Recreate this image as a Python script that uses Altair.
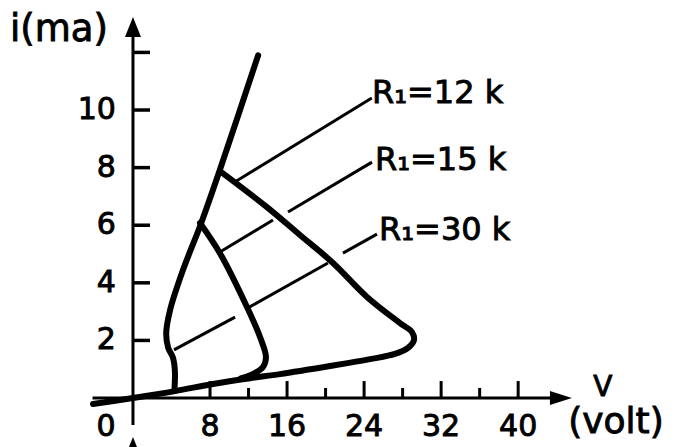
import altair as alt
import pandas as pd

# Visible window of the v-i plane (volts, mA)
X_DOMAIN = [-13.81, 56.91]
Y_DOMAIN = [-1.70, 13.82]

# Main discharge characteristic, from the top down to the knee at the axis
main_v = [13.0, 9.0, 7.0, 5.2, 3.85, 3.45, 3.65, 4.15, 4.35, 4.3]
main_i = [11.9, 7.9, 6.0, 4.45, 3.05, 2.25, 1.75, 1.4, 0.95, 0.25]

# Low-current branch continuing into the R1 = 12 k loop
loop12_v = [-4.15, 0.0, 4.36, 8.31, 12.15, 15.26, 20.46, 24.61, 27.2, 28.56,
            29.18, 28.97, 27.73, 24.3, 20.77, 17.34, 13.91, 9.03]
loop12_i = [-0.21, 0.0, 0.24, 0.49, 0.69, 0.83, 1.11, 1.35, 1.53, 1.74,
            2.01, 2.29, 2.60, 3.51, 4.69, 5.66, 6.63, 7.88]

# R1 = 15 k loop
loop15_v = [6.96, 9.03, 11.84, 13.19, 13.81, 13.5, 12.6, 11.2]
loop15_i = [6.08, 5.03, 3.16, 2.12, 1.42, 1.08, 0.86, 0.68]

# Thin leader lines to the R1 labels (start v, start i, end v, end i)
lead_v1 = [10.7, 9.03, 16.1, 4.26, 11.94, 21.8]
lead_i1 = [7.53, 5.07, 6.46, 1.67, 3.13, 5.03]
lead_v2 = [24.8, 14.54, 24.82, 10.6, 20.25, 25.34]
lead_i2 = [10.42, 6.18, 8.19, 2.81, 4.69, 5.69]

r_labels = ["R\u2081=12 k", "R\u2081=15 k", "R\u2081=30 k"]
r_label_v = [24.82, 25.13, 25.55]
r_label_i = [10.24, 7.92, 5.49]

y_ticks = [2, 4, 6, 8, 10, 12]
y_tick_labels = ["2", "4", "6", "8", "10", ""]
x_ticks = [8, 12, 16, 20, 24, 28, 32, 36, 40]
x_tick_labels = ["0", "8", "16", "24", "32", "40"]
x_tick_label_v = [-2.8, 8, 16, 24, 32, 40]

INK = "black"
FONT = "DejaVu Sans"
TEXT_STROKE = 0.9
xs = alt.Scale(domain=X_DOMAIN, nice=False, zero=False)
ys = alt.Scale(domain=Y_DOMAIN, nice=False, zero=False)
X = alt.X("v:Q", scale=xs, axis=None)
Y = alt.Y("i:Q", scale=ys, axis=None)


def curve_frame():
    rows = []
    for name, vv, ii in [("main", main_v, main_i),
                         ("loop12", loop12_v, loop12_i),
                         ("loop15", loop15_v, loop15_i)]:
        for k, (v, i) in enumerate(zip(vv, ii)):
            rows.append({"curve": name, "k": k, "v": v, "i": i})
    return pd.DataFrame(rows)


# axis lines and ticks as segments
axis_rows = [
    {"v": 0.0, "i": -0.94, "v2": 0.0, "i2": 12.7, "w": 3.0},
    {"v": -4.2, "i": 0.0, "v2": 43.6, "i2": 0.0, "w": 3.0},
]
for t in y_ticks:
    axis_rows.append({"v": 0.0, "i": t, "v2": 1.77, "i2": t, "w": 3.5})
for t in x_ticks:
    h = 0.59 if t % 8 == 0 else 0.35
    axis_rows.append({"v": t, "i": 0.0, "v2": t, "i2": h, "w": 3.0})
axis_df = pd.DataFrame(axis_rows)

lead_df = pd.DataFrame({"v": lead_v1, "i": lead_i1, "v2": lead_v2, "i2": lead_i2})

axes = alt.Chart(axis_df).mark_rule(color=INK, strokeCap="butt").encode(
    x=X, y=Y, x2="v2:Q", y2="i2:Q",
    strokeWidth=alt.StrokeWidth("w:Q", scale=None, legend=None),
)

leads = alt.Chart(lead_df).mark_rule(color=INK, strokeWidth=3, strokeCap="butt").encode(
    x=X, y=Y, x2="v2:Q", y2="i2:Q",
)

curves = alt.Chart(curve_frame()).mark_line(
    color=INK, strokeWidth=6, interpolate="catmull-rom",
    strokeCap="round", strokeJoin="round",
).encode(x=X, y=Y, detail="curve:N", order="k:Q")

# arrowheads: top of the current axis, end of the voltage axis, and the
# one peeking in at the bottom edge
arrow_up = alt.Chart(pd.DataFrame({"v": [0.0, 0.0], "i": [12.88, -1.70]})).mark_point(
    shape="M0,-1L-0.8,1L0.8,1Z", size=400, filled=True, color=INK, opacity=1,
).encode(x=X, y=Y)

arrow_right = alt.Chart(pd.DataFrame({"v": [44.44], "i": [0.0]})).mark_point(
    shape="M1,0L-1,-0.64L-1,0.64Z", size=484, filled=True, color=INK, opacity=1,
).encode(x=X, y=Y)


def text_layer(df, size, align, baseline):
    return alt.Chart(df).mark_text(
        font=FONT, fontSize=size, align=align, baseline=baseline,
        color=INK, stroke=INK, strokeWidth=TEXT_STROKE,
    ).encode(x=X, y=Y, text="t:N")


y_lab = text_layer(pd.DataFrame({"v": [-1.77] * 6, "i": y_ticks, "t": y_tick_labels}),
                   30, "right", "middle")
x_lab = text_layer(pd.DataFrame({"v": x_tick_label_v, "i": [-1.01] * 6, "t": x_tick_labels}),
                   30, "center", "middle")
r_lab = text_layer(pd.DataFrame({"v": r_label_v, "i": r_label_i, "t": r_labels}),
                   32, "left", "alphabetic")
title_i = text_layer(pd.DataFrame({"v": [-12.77], "i": [12.78], "t": ["i(ma)"]}),
                     37, "left", "middle")
title_v = text_layer(pd.DataFrame({"v": [48.8], "i": [0.35], "t": ["V"]}),
                     28, "center", "middle")
title_volt = text_layer(pd.DataFrame({"v": [50.16], "i": [-0.83], "t": ["(volt)"]}),
                        36, "center", "middle")

chart = alt.layer(
    axes, leads, curves, arrow_up, arrow_right, y_lab, x_lab, r_lab,
    title_i, title_v, title_volt,
).properties(
    width=681, height=447, padding=0,
    autosize=alt.AutoSizeParams(type="none"),
    background="white",
).configure_view(stroke=None)

chart.save("out.html", embed_options={"renderer": "svg", "actions": False})
